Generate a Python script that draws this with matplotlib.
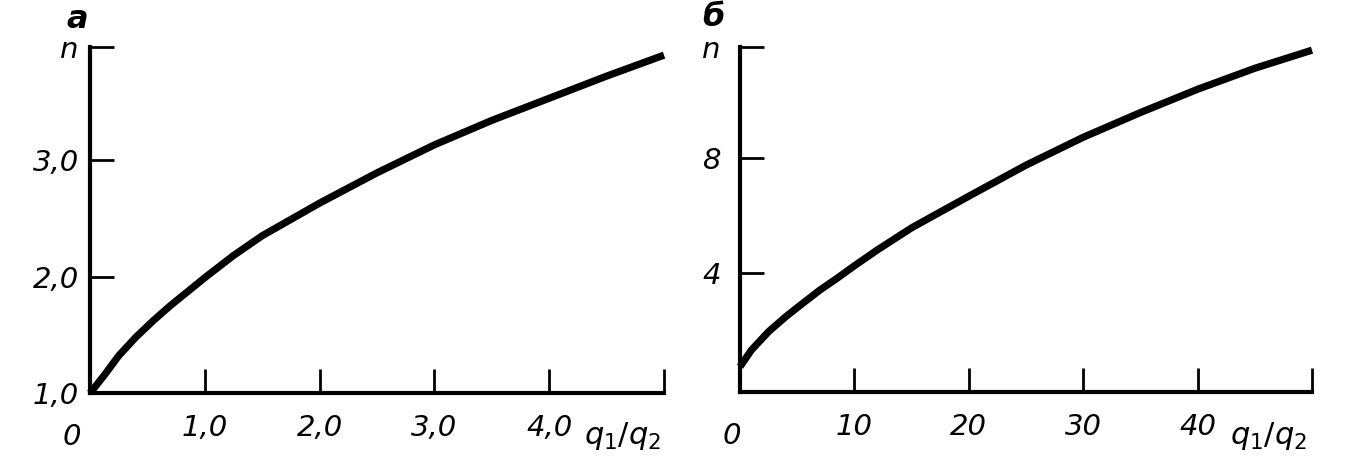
import matplotlib
matplotlib.use("Agg")
import matplotlib.pyplot as plt

# ---- data ----
q_a = [0.0, 0.05, 0.13, 0.25, 0.4, 0.55, 0.7, 0.85, 1.0, 1.25, 1.5, 2.0,
       2.5, 3.0, 3.5, 4.0, 4.5, 5.0]
n_a = [1.0, 1.06, 1.16, 1.32, 1.48, 1.62, 1.75, 1.87, 1.99, 2.18, 2.35, 2.63,
       2.89, 3.13, 3.34, 3.53, 3.72, 3.90]

q_b = [0.0, 1.0, 2.5, 4.0, 5.5, 7.0, 8.5, 10.0, 12.0, 15.0, 20.0, 25.0,
       30.0, 35.0, 40.0, 45.0, 50.0]
n_b = [0.74, 1.32, 1.96, 2.48, 2.95, 3.41, 3.82, 4.25, 4.8, 5.57, 6.67, 7.75,
       8.72, 9.58, 10.39, 11.12, 11.75]

xticks_a = [1, 2, 3, 4, 5]
xlabels_a = ["1,0", "2,0", "3,0", "4,0", ""]
yticks_a = [1, 2, 3, 3.97]
ylabels_a = ["1,0", "2,0", "3,0", "n"]

xticks_b = [10, 20, 30, 40, 50]
xlabels_b = ["10", "20", "30", "40", ""]
yticks_b = [4, 8, 11.86]
ylabels_b = ["4", "8", "n"]

plt.rcParams['mathtext.fontset'] = 'dejavusans'
FS = 21
W, H = 1359, 473
fig = plt.figure(figsize=(W / 100, H / 100), dpi=100)
fig.patch.set_facecolor("white")

ax1 = fig.add_axes([90 / W, 1 - 393 / H, (664 - 90) / W, (393 - 47) / H])
ax2 = fig.add_axes([740 / W, 1 - 392 / H, (1312 - 740) / W, (392 - 47) / H])

def style(ax, xt, xl, yt, yl, xlim, ylim, ypad):
    ax.set_xlim(*xlim)
    ax.set_ylim(*ylim)
    for s in ("top", "right"):
        ax.spines[s].set_visible(False)
    for s in ("left", "bottom"):
        ax.spines[s].set_linewidth(3)
        ax.spines[s].set_capstyle("projecting")
    ax.set_xticks(xt)
    ax.set_xticklabels(xl, fontsize=FS, fontstyle="italic")
    ax.set_yticks(yt)
    ax.set_yticklabels(yl, fontsize=FS, fontstyle="italic")
    ax.tick_params(axis="x", direction="in", length=17, width=2, pad=15)
    ax.tick_params(axis="y", direction="in", length=17, width=2, pad=ypad)
    ax.set_facecolor("none")

style(ax1, xticks_a, xlabels_a, yticks_a, ylabels_a, (0, 5), (1, 3.97), 8)
style(ax2, xticks_b, xlabels_b, yticks_b, ylabels_b, (0, 50), (-0.14, 11.86), 14)

ax1.plot(q_a, n_a, color="black", lw=5.2, solid_capstyle="butt",
         solid_joinstyle="round", clip_on=False)
ax2.plot(q_b, n_b, color="black", lw=5.2, solid_capstyle="butt",
         solid_joinstyle="round", clip_on=False)

# origin zeros
ax1.annotate("0", xy=(0, 0), xycoords="axes fraction", xytext=(-13, -32),
             textcoords="offset points", fontsize=FS, fontstyle="italic",
             ha="center", va="center")
ax2.annotate("0", xy=(0, 0), xycoords="axes fraction", xytext=(-6, -32),
             textcoords="offset points", fontsize=FS, fontstyle="italic",
             ha="center", va="center")

# axis names
ax1.annotate(r"$q_1/q_2$", xy=(4.64, 0), xycoords=("data", "axes fraction"),
             xytext=(0, -31), textcoords="offset points", fontsize=FS + 1,
             ha="center", va="center")
ax2.annotate(r"$q_1/q_2$", xy=(46.2, 0), xycoords=("data", "axes fraction"),
             xytext=(0, -32), textcoords="offset points", fontsize=FS + 1,
             ha="center", va="center")

# panel letters
fig.text(77 / W, 1 - 20 / H, "а", fontsize=FS + 2, fontstyle="italic",
         fontweight="bold", ha="center", va="center")
fig.text(713 / W, 1 - 17 / H, "б", fontsize=FS + 2, fontstyle="italic",
         fontweight="bold", ha="center", va="center")

fig.savefig("out.png", dpi=100, facecolor="white")
